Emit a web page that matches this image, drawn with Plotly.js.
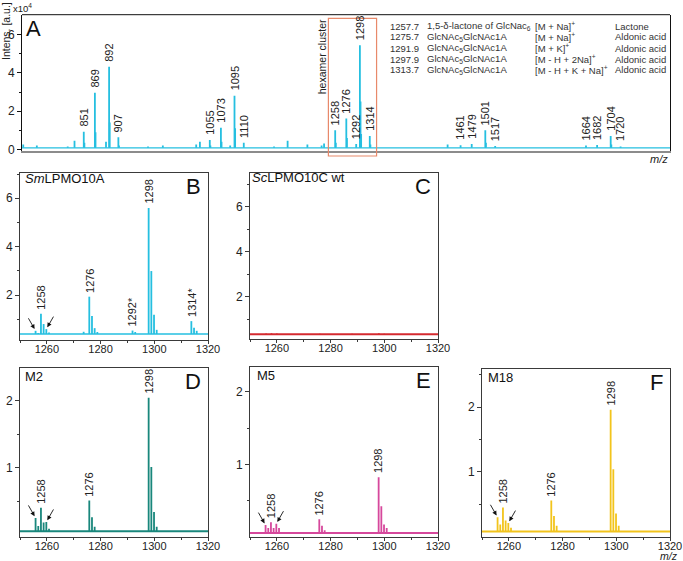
<!DOCTYPE html>
<html>
<head>
<meta charset="utf-8">
<script src="https://cdn.plot.ly/plotly-3.0.1.min.js"></script>
<style>html,body{margin:0;padding:0;background:#fff;}#chart{width:683px;height:561px;}</style>
</head>
<body>
<div id="chart"></div>
<script>
// ---------------- DATA ----------------
// Panel A: full MALDI-TOF spectrum (m/z, intensity x10^4)
const aMz  = [753, 775, 825, 836, 851, 852, 869, 870, 887, 892, 893, 907, 908, 955, 979, 1033, 1039, 1055, 1056, 1073, 1074, 1088, 1095, 1096, 1110, 1159, 1181, 1213, 1236, 1240, 1258, 1259, 1276, 1277, 1292, 1298, 1299, 1300, 1314, 1315, 1440, 1461, 1479, 1501, 1502, 1517, 1664, 1682, 1704, 1705, 1720];
const aInt = [0.25, 0.2, 0.15, 0.45, 0.92, 0.35, 2.97, 0.9, 0.4, 4.33, 1.4, 0.64, 0.2, 0.15, 0.2, 0.25, 0.4, 0.49, 0.2, 1.13, 0.4, 0.2, 2.8, 1.1, 0.35, 0.15, 0.45, 0.25, 0.2, 0.3, 1.0, 0.35, 1.62, 0.6, 0.28, 5.45, 2.5, 0.8, 0.7, 0.25, 0.25, 0.22, 0.28, 1.0, 0.35, 0.17, 0.2, 0.23, 0.7, 0.25, 0.15];
const aBase = 0.08;
const aLabelMz = [851, 869, 892, 907, 1055, 1073, 1095, 1110, 1258, 1276, 1292, 1298, 1314, 1461, 1479, 1501, 1517, 1664, 1682, 1704, 1720];
const aLabelText = ['851', '869', '892', '907', '1055', '1073', '1095', '1110', '1258', '1276', '1292', '1298', '1314', '1461', '1479', '1501', '1517', '1664', '1682', '1704', '1720'];
const hexamerRange = [1247, 1325];

// Assignment table in panel A
const tableMz   = ['1257.7', '1275.7', '1291.9', '1297.9', '1313.7'];
const tableName = ['1,5-δ-lactone of GlcNac<sub>6</sub>', 'GlcNAc<sub>5</sub>GlcNAc1A', 'GlcNAc<sub>5</sub>GlcNAc1A', 'GlcNAc<sub>5</sub>GlcNAc1A', 'GlcNAc<sub>5</sub>GlcNAc1A'];
const tableIon  = ['[M + Na]<sup>+</sup>', '[M + Na]<sup>+</sup>', '[M + K]<sup>+</sup>', '[M - H + 2Na]<sup>+</sup>', '[M - H + K + Na]<sup>+</sup>'];
const tableType = ['Lactone', 'Aldonic acid', 'Aldonic acid', 'Aldonic acid', 'Aldonic acid'];

// Panel B: SmLPMO10A hexamer cluster
const bMz  = [1255.8, 1256.8, 1257.8, 1258.8, 1259.8, 1260.8, 1273.7, 1275.8, 1276.8, 1277.8, 1278.8, 1291.9, 1292.9, 1297.9, 1298.9, 1299.9, 1300.9, 1313.8, 1314.8, 1315.8];
const bInt = [0.52, 0.43, 1.22, 0.80, 0.59, 0.45, 0.48, 1.93, 1.13, 0.63, 0.47, 0.53, 0.47, 5.60, 2.99, 1.18, 0.56, 0.92, 0.65, 0.52];
const bBase = 0.39;
const bLabelMz = [1257.8, 1275.8, 1291.9, 1297.9, 1313.8];
const bLabelText = ['1258', '1276', '1292*', '1298', '1314*'];

// Panel C: ScLPMO10C wt (no products)
const cMz  = [1256, 1258, 1260, 1276, 1288, 1298, 1300];
const cInt = [0.37, 0.38, 0.37, 0.36, 0.36, 0.38, 0.36];
const cBase = 0.34;

// Panels D, E, F: mutants M2, M5, M18 (shared peak positions)
const mutMz = [1255.8, 1256.8, 1257.8, 1258.8, 1259.8, 1260.8, 1275.8, 1276.8, 1277.8, 1297.9, 1298.9, 1299.9, 1300.9];
const dInt = [0.25, 0.13, 0.40, 0.18, 0.19, 0.09, 0.51, 0.26, 0.12, 2.04, 1.01, 0.34, 0.12];
const eInt = [0.16, 0.12, 0.20, 0.12, 0.18, 0.12, 0.24, 0.15, 0.09, 0.82, 0.42, 0.17, 0.12];
const fInt = [0.30, 0.19, 0.45, 0.25, 0.21, 0.14, 0.56, 0.32, 0.17, 1.96, 1.04, 0.36, 0.17];
const dBase = 0.05, eBase = 0.05, fBase = 0.08;
const mutLabelMz = [1257.8, 1275.8, 1297.9];
const mutLabelText = ['1258', '1276', '1298'];
const arrowMz = [1255.8, 1259.8];

// ---------------- LAYOUT HELPERS ----------------
const W = 683, H = 561;
const xd = (p0, p1) => [p0 / W, p1 / W];
const yd = (p0, p1) => [1 - p1 / H, 1 - p0 / H];
const px = v => v / W;
const py = v => 1 - v / H;

const COL = {
  cyan: '#25bfe0', red: '#d42a2f', teal: '#19877c', pink: '#d6489c', yellow: '#f2c41c'
};
const TXT = '#222';
const FONT = 'Liberation Sans, Arial, sans-serif';

function sticks(mz, inten, base, color, xa, ya, w) {
  const xs = [], ys = [];
  for (let i = 0; i < mz.length; i++) { xs.push(mz[i], mz[i], null); ys.push(base, inten[i], null); }
  return {type: 'scatter', mode: 'lines', x: xs, y: ys, xaxis: xa, yaxis: ya,
          line: {color: color, width: w}, hoverinfo: 'skip'};
}
function baseline(range, base, color, xa, ya, w) {
  return {type: 'scatter', mode: 'lines', x: range, y: [base, base], xaxis: xa, yaxis: ya,
          line: {color: color, width: w}, hoverinfo: 'skip'};
}
function lookup(mz, inten, m) {
  let best = 0;
  for (let i = 1; i < mz.length; i++) if (Math.abs(mz[i] - m) < Math.abs(mz[best] - m)) best = i;
  return inten[best];
}

const rangeA = [751, 1800];
const rangeZ = [1250, 1320];

const traces = [
  baseline(rangeA, aBase, COL.cyan, 'x', 'y', 1.3),
  sticks(aMz, aInt, aBase, COL.cyan, 'x', 'y', 1.8),
  baseline(rangeZ, bBase, COL.cyan, 'x2', 'y2', 1.6),
  sticks(bMz, bInt, bBase, COL.cyan, 'x2', 'y2', 1.8),
  baseline(rangeZ, cBase, COL.red, 'x3', 'y3', 2),
  sticks(cMz, cInt, cBase, COL.red, 'x3', 'y3', 1.5),
  baseline(rangeZ, dBase, COL.teal, 'x4', 'y4', 2),
  sticks(mutMz, dInt, dBase, COL.teal, 'x4', 'y4', 1.8),
  baseline(rangeZ, eBase, COL.pink, 'x5', 'y5', 2),
  sticks(mutMz, eInt, eBase, COL.pink, 'x5', 'y5', 1.8),
  baseline(rangeZ, fBase, COL.yellow, 'x6', 'y6', 2),
  sticks(mutMz, fInt, fBase, COL.yellow, 'x6', 'y6', 1.8)
];

const frame = '#3a3a3a';
function zx(anchor, dom) {
  return {domain: dom, anchor: anchor, range: rangeZ, showgrid: false, zeroline: false,
    showline: true, mirror: true, linecolor: frame, linewidth: 1,
    ticks: 'outside', ticklen: 3, tickcolor: frame, dtick: 20, tick0: 0, ticklabelstandoff: -4,
    minor: {dtick: 10, ticklen: 2, ticks: 'outside', tickcolor: frame},
    tickfont: {size: 11, color: TXT, family: FONT}};
}
function zy(anchor, dom, range, tv, minorTv) {
  return {domain: dom, anchor: anchor, range: range, showgrid: false, zeroline: false,
    showline: true, mirror: true, linecolor: frame, linewidth: 1,
    ticks: 'outside', ticklen: 4, tickcolor: frame, tickmode: 'array', tickvals: tv,
    minor: {tickmode: 'array', tickvals: minorTv, ticklen: 2, ticks: 'outside', tickcolor: frame},
    tickfont: {size: 12, color: TXT, family: FONT}};
}

const layout = {
  width: W, height: H, margin: {l: 0, r: 0, t: 0, b: 0},
  paper_bgcolor: '#fff', plot_bgcolor: 'rgba(0,0,0,0)', showlegend: false,
  font: {family: FONT, color: TXT},
  xaxis: {domain: xd(22, 670), anchor: 'y', range: rangeA, showgrid: false, zeroline: false,
    showline: true, linecolor: '#8c8c8c', linewidth: 2.5, ticks: '', showticklabels: false},
  yaxis: {domain: yd(14.7, 150.5), anchor: 'x', range: [-0.06, 7.05], showgrid: false, zeroline: false,
    showline: true, mirror: true, linecolor: '#111', linewidth: 1,
    ticks: 'outside', ticklen: 4, tickcolor: '#111', tickmode: 'array', tickvals: [0, 2, 4, 6],
    minor: {tickmode: 'array', tickvals: [1, 3, 5], ticklen: 2, ticks: 'outside', tickcolor: '#111'},
    tickfont: {size: 12, color: TXT, family: FONT}},
  xaxis2: zx('y2', xd(20, 208)),
  yaxis2: zy('x2', yd(173.3, 340), [0.14, 7.03], [2, 4, 6], [1, 3, 5, 7]),
  xaxis3: zx('y3', xd(250, 438)),
  yaxis3: zy('x3', yd(173.3, 338.5), [0.15, 7.48], [2, 4, 6], [1, 3, 5, 7]),
  xaxis4: zx('y4', xd(20, 208)),
  yaxis4: zy('x4', yd(368.3, 536.7), [-0.03, 2.48], [1, 2], [0.5, 1.5, 2.5]),
  xaxis5: zx('y5', xd(250, 438)),
  yaxis5: zy('x5', yd(367.3, 536.7), [0, 2.34], [1, 2], [0.5, 1.5, 2.5]),
  xaxis6: zx('y6', xd(482, 670)),
  yaxis6: zy('x6', yd(369, 536.7), [0, 2.59], [1, 2], [0.5, 1.5, 2.5]),
  shapes: [
    {type: 'line', xref: 'x domain', yref: 'y domain', x0: 0, x1: 1, y0: 1, y1: 1, line: {color: '#111', width: 1}},
    {type: 'rect', xref: 'x', yref: 'paper', x0: hexamerRange[0], x1: hexamerRange[1], y0: py(156), y1: py(18.3),
     line: {color: '#e8896a', width: 1.2}, fillcolor: 'rgba(0,0,0,0)'}
  ],
  annotations: []
};

const ann = layout.annotations;
function peakLabels(xa, ya, mz, inten, lmz, ltxt, shift) {
  for (let i = 0; i < lmz.length; i++) {
    ann.push({xref: xa, yref: ya, x: lmz[i], y: lookup(mz, inten, lmz[i]), text: ltxt[i], textangle: -90,
      showarrow: false, xanchor: 'center', yanchor: 'bottom', yshift: shift,
      font: {size: 11, color: TXT, family: FONT}});
  }
}
function arrows(xa, ya, mz, inten) {
  const dirs = [-1, 1];
  for (let i = 0; i < arrowMz.length; i++) {
    ann.push({xref: xa, yref: ya, x: arrowMz[i], y: lookup(mz, inten, arrowMz[i]), text: '',
      showarrow: true, arrowhead: 2, arrowsize: 1, arrowwidth: 0.9, arrowcolor: '#111',
      standoff: 2, ax: 8 * dirs[i], ay: -14});
  }
}
function panelText(xa, ya, letter, title, tshift, txshift) {
  ann.push({xref: xa + ' domain', yref: ya + ' domain', x: 1, y: 1, xanchor: 'right', yanchor: 'top',
    xshift: -5, yshift: 1, text: letter, showarrow: false, font: {size: 22, color: '#111', family: FONT}});
  ann.push({xref: xa + ' domain', yref: ya + ' domain', x: 0, y: 1, xanchor: 'left', yanchor: 'top',
    xshift: txshift, yshift: tshift, text: title, showarrow: false, font: {size: 13, color: '#111', family: FONT}});
}

peakLabels('x', 'y', aMz, aInt, aLabelMz, aLabelText, 3);
peakLabels('x2', 'y2', bMz, bInt, bLabelMz, bLabelText, 2);
peakLabels('x4', 'y4', mutMz, dInt, mutLabelMz, mutLabelText, 2);
peakLabels('x5', 'y5', mutMz, eInt, mutLabelMz, mutLabelText, 2);
peakLabels('x6', 'y6', mutMz, fInt, mutLabelMz, mutLabelText, 2);
arrows('x2', 'y2', bMz, bInt);
arrows('x4', 'y4', mutMz, dInt);
arrows('x5', 'y5', mutMz, eInt);
arrows('x6', 'y6', mutMz, fInt);

ann.push({xref: 'x domain', yref: 'y domain', x: 0, y: 1, xanchor: 'left', yanchor: 'top', xshift: 2, yshift: 1,
  text: 'A', showarrow: false, font: {size: 22, color: '#111', family: FONT}});
panelText('x2', 'y2', 'B', '<i>Sm</i>LPMO10A', 4, 3);
panelText('x3', 'y3', 'C', '<i>Sc</i>LPMO10C wt', 5, 0);
panelText('x4', 'y4', 'D', 'M2', 1, 3);
panelText('x5', 'y5', 'E', 'M5', 1, 5);
panelText('x6', 'y6', 'F', 'M18', 1, 4);

// hexamer cluster label
ann.push({xref: 'x', yref: 'paper', x: 1237, y: py(57), text: 'hexamer cluster', textangle: -90, showarrow: false,
  xanchor: 'center', yanchor: 'middle', font: {size: 10.5, color: TXT, family: FONT}});

// assignment table
const tableCols = [[388, tableMz], [425, tableName], [533, tableIon], [613, tableType]];
for (let r = 0; r < tableMz.length; r++) {
  for (const [cx, arr] of tableCols) {
    ann.push({xref: 'paper', yref: 'paper', x: px(cx), y: py(26 + 11 * r), xanchor: 'left', yanchor: 'middle',
      text: arr[r], showarrow: false, font: {size: 9.5, color: '#333', family: FONT}});
  }
}

// axis titles
ann.push({xref: 'paper', yref: 'paper', x: px(6), y: py(31), text: 'Intens. [a.u.]', textangle: -90, showarrow: false,
  xanchor: 'center', yanchor: 'middle', font: {size: 10.5, color: TXT, family: FONT}});
ann.push({xref: 'paper', yref: 'paper', x: px(11), y: py(8), text: 'x10<sup>4</sup>', showarrow: false,
  xanchor: 'left', yanchor: 'middle', font: {size: 9.5, color: TXT, family: FONT}});
ann.push({xref: 'paper', yref: 'paper', x: px(670), y: py(159), text: '<i>m/z</i>', showarrow: false,
  xanchor: 'right', yanchor: 'middle', font: {size: 11, color: TXT, family: FONT}});
ann.push({xref: 'paper', yref: 'paper', x: px(680), y: 0, text: '<i>m/z</i>', showarrow: false,
  xanchor: 'right', yanchor: 'bottom', yshift: -3, font: {size: 10.5, color: TXT, family: FONT}});

Plotly.newPlot('chart', traces, layout, {displayModeBar: false, staticPlot: true});
</script>
</body>
</html>
